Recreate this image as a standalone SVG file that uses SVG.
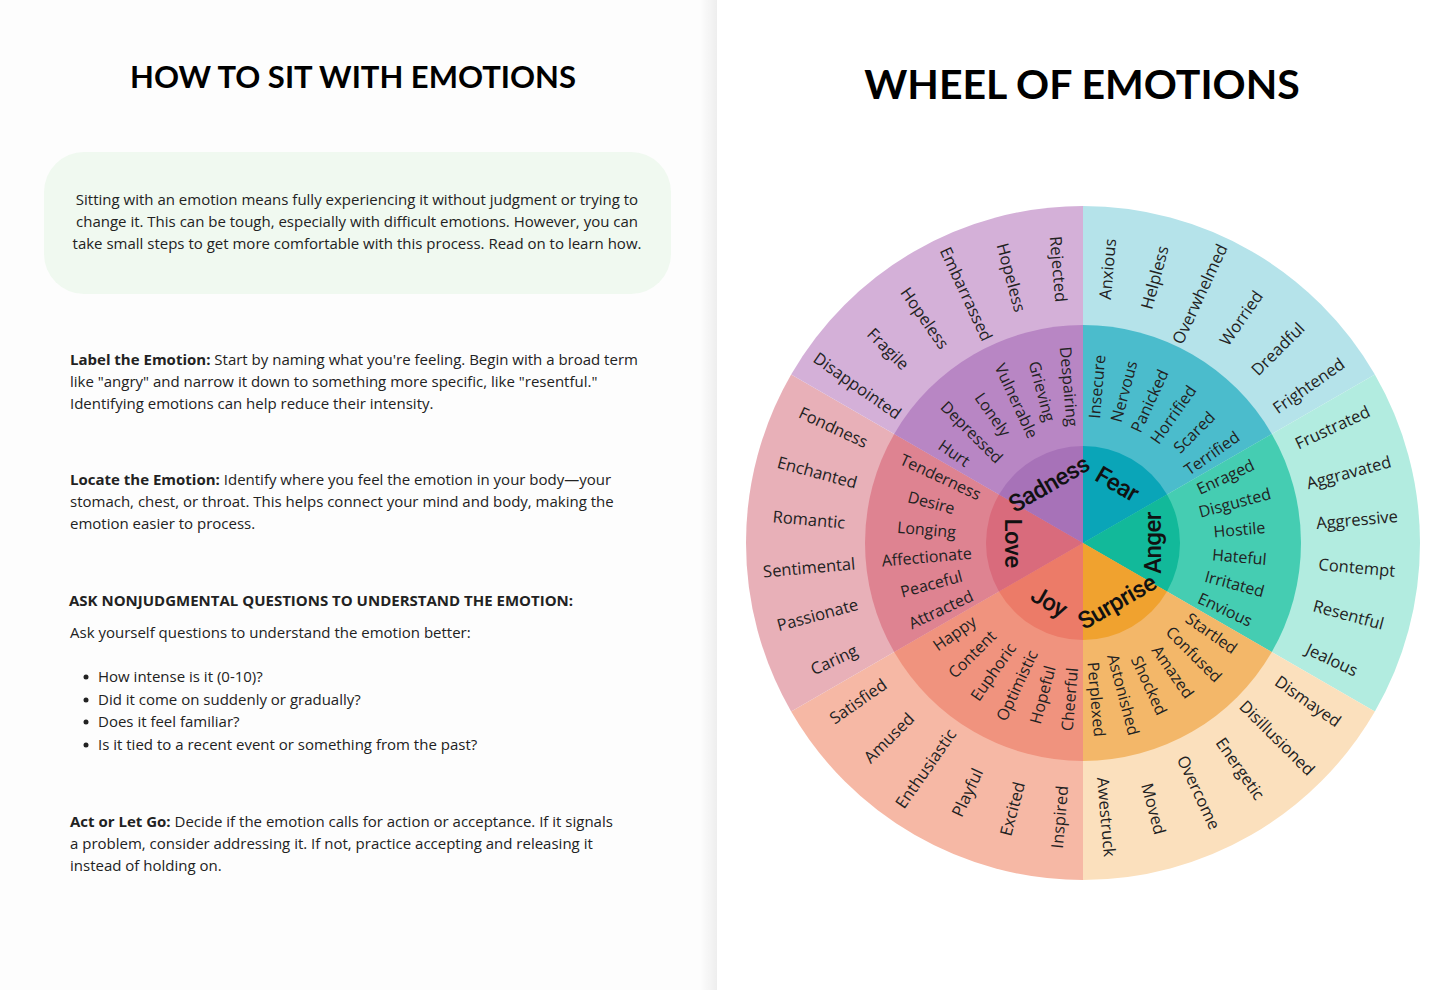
<svg xmlns="http://www.w3.org/2000/svg" width="1445" height="990" viewBox="0 0 1445 990">
<defs>
<linearGradient id="sh" x1="0" x2="1" y1="0" y2="0"><stop offset="0" stop-color="#000" stop-opacity="0"/><stop offset="1" stop-color="#000" stop-opacity="0.06"/></linearGradient>
<style>
.t{font-family:"Open Sans","Liberation Sans",sans-serif;font-size:15px;fill:#222}
.b{font-weight:bold}
.h{font-family:"Lato","Liberation Sans",sans-serif;font-weight:bold;fill:#000;text-anchor:middle}
.o{font-family:"Open Sans","Liberation Sans",sans-serif;font-size:16.5px;fill:#222;text-anchor:middle;dominant-baseline:central}
.m{font-family:"Open Sans","Liberation Sans",sans-serif;font-size:16px;fill:#222;text-anchor:middle;dominant-baseline:central}
.c{font-family:"Roboto","Liberation Sans",sans-serif;font-size:24px;font-weight:500;fill:#111;text-anchor:middle;dominant-baseline:central;letter-spacing:-0.5px}
</style>
</defs>
<rect width="1445" height="990" fill="#fff"/>
<rect width="717" height="990" fill="#fdfdfd"/>
<rect x="700" width="17" height="990" fill="url(#sh)"/>
<g id="left">
<text class="h" x="353" y="88" font-size="31">HOW TO SIT WITH EMOTIONS</text>
<rect x="44" y="152" width="627" height="142" rx="40" fill="#f0f9f0"/>
<text class="t" text-anchor="middle"><tspan x="357" y="205">Sitting with an emotion means fully experiencing it without judgment or trying to</tspan><tspan x="357" y="227">change it. This can be tough, especially with difficult emotions. However, you can</tspan><tspan x="357" y="249">take small steps to get more comfortable with this process. Read on to learn how.</tspan></text>
<text class="t"><tspan x="70" y="365"><tspan class="b">Label the Emotion:</tspan> Start by naming what you're feeling. Begin with a broad term</tspan><tspan x="70" y="387">like "angry" and narrow it down to something more specific, like "resentful."</tspan><tspan x="70" y="409">Identifying emotions can help reduce their intensity.</tspan></text>
<text class="t"><tspan x="70" y="485"><tspan class="b">Locate the Emotion:</tspan> Identify where you feel the emotion in your body—your</tspan><tspan x="70" y="507">stomach, chest, or throat. This helps connect your mind and body, making the</tspan><tspan x="70" y="529">emotion easier to process.</tspan></text>
<text class="t b" x="69" y="606">ASK NONJUDGMENTAL QUESTIONS TO UNDERSTAND THE EMOTION:</text>
<text class="t" x="70" y="638">Ask yourself questions to understand the emotion better:</text>
<g class="t"><circle cx="86" cy="677" r="2.5" fill="#222"/><circle cx="86" cy="700" r="2.5" fill="#222"/><circle cx="86" cy="722" r="2.5" fill="#222"/><circle cx="86" cy="745" r="2.5" fill="#222"/></g>
<text class="t"><tspan x="98" y="682">How intense is it (0-10)?</tspan><tspan x="98" y="705">Did it come on suddenly or gradually?</tspan><tspan x="98" y="727">Does it feel familiar?</tspan><tspan x="98" y="750">Is it tied to a recent event or something from the past?</tspan></text>
<text class="t"><tspan x="70" y="827"><tspan class="b">Act or Let Go:</tspan> Decide if the emotion calls for action or acceptance. If it signals</tspan><tspan x="70" y="849">a problem, consider addressing it. If not, practice accepting and releasing it</tspan><tspan x="70" y="871">instead of holding on.</tspan></text>
</g>
<text class="h" x="1082" y="99" font-size="41">WHEEL OF EMOTIONS</text>
<g id="wheel">
<path d="M1083 543L1083 206A337 337 0 0 1 1374.85 374.5Z" fill="#b5e3ea"/>
<path d="M1083 543L1374.85 374.5A337 337 0 0 1 1374.85 711.5Z" fill="#b2ece0"/>
<path d="M1083 543L1374.85 711.5A337 337 0 0 1 1083 880Z" fill="#fbe0bd"/>
<path d="M1083 543L1083 880A337 337 0 0 1 791.15 711.5Z" fill="#f6b8a5"/>
<path d="M1083 543L791.15 711.5A337 337 0 0 1 791.15 374.5Z" fill="#e8b0b8"/>
<path d="M1083 543L791.15 374.5A337 337 0 0 1 1083 206Z" fill="#d4b0d8"/>
<path d="M1083 543L1083 325A218 218 0 0 1 1271.79 434Z" fill="#4bbccc"/>
<path d="M1083 543L1271.79 434A218 218 0 0 1 1271.79 652Z" fill="#45cdb2"/>
<path d="M1083 543L1271.79 652A218 218 0 0 1 1083 761Z" fill="#f3b769"/>
<path d="M1083 543L1083 761A218 218 0 0 1 894.21 652Z" fill="#f0937e"/>
<path d="M1083 543L894.21 652A218 218 0 0 1 894.21 434Z" fill="#de8391"/>
<path d="M1083 543L894.21 434A218 218 0 0 1 1083 325Z" fill="#b886c4"/>
<path d="M1083 543L1083 446A97 97 0 0 1 1167 494.5Z" fill="#0aa5b8"/>
<path d="M1083 543L1167 494.5A97 97 0 0 1 1167 591.5Z" fill="#12b99a"/>
<path d="M1083 543L1167 591.5A97 97 0 0 1 1083 640Z" fill="#f0a22f"/>
<path d="M1083 543L1083 640A97 97 0 0 1 999 591.5Z" fill="#ec7b68"/>
<path d="M1083 543L999 591.5A97 97 0 0 1 999 494.5Z" fill="#d96b7c"/>
<path d="M1083 543L999 494.5A97 97 0 0 1 1083 446Z" fill="#a772b8"/>
</g>
<g id="inner">
<text class="c" transform="translate(1083 543) rotate(-60) translate(68 0) rotate(90)">Fear</text>
<text class="c" transform="translate(1083 543) rotate(0) translate(70 0) rotate(-90)">Anger</text>
<text class="c" transform="translate(1083 543) rotate(60) translate(68 0) rotate(-90)">Surprise</text>
<text class="c" transform="translate(1083 543) rotate(120) translate(68 0) rotate(-90)">Joy</text>
<text class="c" transform="translate(1083 543) rotate(180) translate(70 0) rotate(-90)">Love</text>
<text class="c" transform="translate(1083 543) rotate(-120) translate(68 0) rotate(90)">Sadness</text>
</g>
<g id="middle" class="m">
<text class="m" transform="translate(1083 543) rotate(-85) translate(157 0)">Insecure</text>
<text class="m" transform="translate(1083 543) rotate(-75) translate(157 0)">Nervous</text>
<text class="m" transform="translate(1083 543) rotate(-65) translate(157 0)">Panicked</text>
<text class="m" transform="translate(1083 543) rotate(-55) translate(157 0)">Horrified</text>
<text class="m" transform="translate(1083 543) rotate(-45) translate(157 0)">Scared</text>
<text class="m" transform="translate(1083 543) rotate(-35) translate(157 0)">Terrified</text>
<text class="m" transform="translate(1083 543) rotate(-25) translate(157 0)">Enraged</text>
<text class="m" transform="translate(1083 543) rotate(-15) translate(157 0)">Disgusted</text>
<text class="m" transform="translate(1083 543) rotate(-5) translate(157 0)">Hostile</text>
<text class="m" transform="translate(1083 543) rotate(5) translate(157 0)">Hateful</text>
<text class="m" transform="translate(1083 543) rotate(15) translate(157 0)">Irritated</text>
<text class="m" transform="translate(1083 543) rotate(25) translate(157 0)">Envious</text>
<text class="m" transform="translate(1083 543) rotate(35) translate(157 0)">Startled</text>
<text class="m" transform="translate(1083 543) rotate(45) translate(157 0)">Confused</text>
<text class="m" transform="translate(1083 543) rotate(55) translate(157 0)">Amazed</text>
<text class="m" transform="translate(1083 543) rotate(65) translate(157 0)">Shocked</text>
<text class="m" transform="translate(1083 543) rotate(75) translate(157 0)">Astonished</text>
<text class="m" transform="translate(1083 543) rotate(85) translate(157 0)">Perplexed</text>
<text class="m" transform="translate(1083 543) rotate(95) translate(157 0) rotate(180)">Cheerful</text>
<text class="m" transform="translate(1083 543) rotate(105) translate(157 0) rotate(180)">Hopeful</text>
<text class="m" transform="translate(1083 543) rotate(115) translate(157 0) rotate(180)">Optimistic</text>
<text class="m" transform="translate(1083 543) rotate(125) translate(157 0) rotate(180)">Euphoric</text>
<text class="m" transform="translate(1083 543) rotate(135) translate(157 0) rotate(180)">Content</text>
<text class="m" transform="translate(1083 543) rotate(145) translate(157 0) rotate(180)">Happy</text>
<text class="m" transform="translate(1083 543) rotate(155) translate(157 0) rotate(180)">Attracted</text>
<text class="m" transform="translate(1083 543) rotate(165) translate(157 0) rotate(180)">Peaceful</text>
<text class="m" transform="translate(1083 543) rotate(175) translate(157 0) rotate(180)">Affectionate</text>
<text class="m" transform="translate(1083 543) rotate(185) translate(157 0) rotate(180)">Longing</text>
<text class="m" transform="translate(1083 543) rotate(195) translate(157 0) rotate(180)">Desire</text>
<text class="m" transform="translate(1083 543) rotate(205) translate(157 0) rotate(180)">Tenderness</text>
<text class="m" transform="translate(1083 543) rotate(215) translate(157 0) rotate(180)">Hurt</text>
<text class="m" transform="translate(1083 543) rotate(225) translate(157 0) rotate(180)">Depressed</text>
<text class="m" transform="translate(1083 543) rotate(235) translate(157 0) rotate(180)">Lonely</text>
<text class="m" transform="translate(1083 543) rotate(245) translate(157 0) rotate(180)">Vulnerable</text>
<text class="m" transform="translate(1083 543) rotate(255) translate(157 0) rotate(180)">Grieving</text>
<text class="m" transform="translate(1083 543) rotate(265) translate(157 0) rotate(180)">Despairing</text>
</g>
<g id="outer">
<text class="o" transform="translate(1083 543) rotate(-85) translate(275 0)">Anxious</text>
<text class="o" transform="translate(1083 543) rotate(-75) translate(275 0)">Helpless</text>
<text class="o" transform="translate(1083 543) rotate(-65) translate(275 0)">Overwhelmed</text>
<text class="o" transform="translate(1083 543) rotate(-55) translate(275 0)">Worried</text>
<text class="o" transform="translate(1083 543) rotate(-45) translate(275 0)">Dreadful</text>
<text class="o" transform="translate(1083 543) rotate(-35) translate(275 0)">Frightened</text>
<text class="o" transform="translate(1083 543) rotate(-25) translate(275 0)">Frustrated</text>
<text class="o" transform="translate(1083 543) rotate(-15) translate(275 0)">Aggravated</text>
<text class="o" transform="translate(1083 543) rotate(-5) translate(275 0)">Aggressive</text>
<text class="o" transform="translate(1083 543) rotate(5) translate(275 0)">Contempt</text>
<text class="o" transform="translate(1083 543) rotate(15) translate(275 0)">Resentful</text>
<text class="o" transform="translate(1083 543) rotate(25) translate(275 0)">Jealous</text>
<text class="o" transform="translate(1083 543) rotate(35) translate(275 0)">Dismayed</text>
<text class="o" transform="translate(1083 543) rotate(45) translate(275 0)">Disillusioned</text>
<text class="o" transform="translate(1083 543) rotate(55) translate(275 0)">Energetic</text>
<text class="o" transform="translate(1083 543) rotate(65) translate(275 0)">Overcome</text>
<text class="o" transform="translate(1083 543) rotate(75) translate(275 0)">Moved</text>
<text class="o" transform="translate(1083 543) rotate(85) translate(275 0)">Awestruck</text>
<text class="o" transform="translate(1083 543) rotate(95) translate(275 0) rotate(180)">Inspired</text>
<text class="o" transform="translate(1083 543) rotate(105) translate(275 0) rotate(180)">Excited</text>
<text class="o" transform="translate(1083 543) rotate(115) translate(275 0) rotate(180)">Playful</text>
<text class="o" transform="translate(1083 543) rotate(125) translate(275 0) rotate(180)">Enthusiastic</text>
<text class="o" transform="translate(1083 543) rotate(135) translate(275 0) rotate(180)">Amused</text>
<text class="o" transform="translate(1083 543) rotate(145) translate(275 0) rotate(180)">Satisfied</text>
<text class="o" transform="translate(1083 543) rotate(155) translate(275 0) rotate(180)">Caring</text>
<text class="o" transform="translate(1083 543) rotate(165) translate(275 0) rotate(180)">Passionate</text>
<text class="o" transform="translate(1083 543) rotate(175) translate(275 0) rotate(180)">Sentimental</text>
<text class="o" transform="translate(1083 543) rotate(185) translate(275 0) rotate(180)">Romantic</text>
<text class="o" transform="translate(1083 543) rotate(195) translate(275 0) rotate(180)">Enchanted</text>
<text class="o" transform="translate(1083 543) rotate(205) translate(275 0) rotate(180)">Fondness</text>
<text class="o" transform="translate(1083 543) rotate(215) translate(275 0) rotate(180)">Disappointed</text>
<text class="o" transform="translate(1083 543) rotate(225) translate(275 0) rotate(180)">Fragile</text>
<text class="o" transform="translate(1083 543) rotate(235) translate(275 0) rotate(180)">Hopeless</text>
<text class="o" transform="translate(1083 543) rotate(245) translate(275 0) rotate(180)">Embarrassed</text>
<text class="o" transform="translate(1083 543) rotate(255) translate(275 0) rotate(180)">Hopeless</text>
<text class="o" transform="translate(1083 543) rotate(265) translate(275 0) rotate(180)">Rejected</text>
</g>
<g id="connectors"/>
</svg>
